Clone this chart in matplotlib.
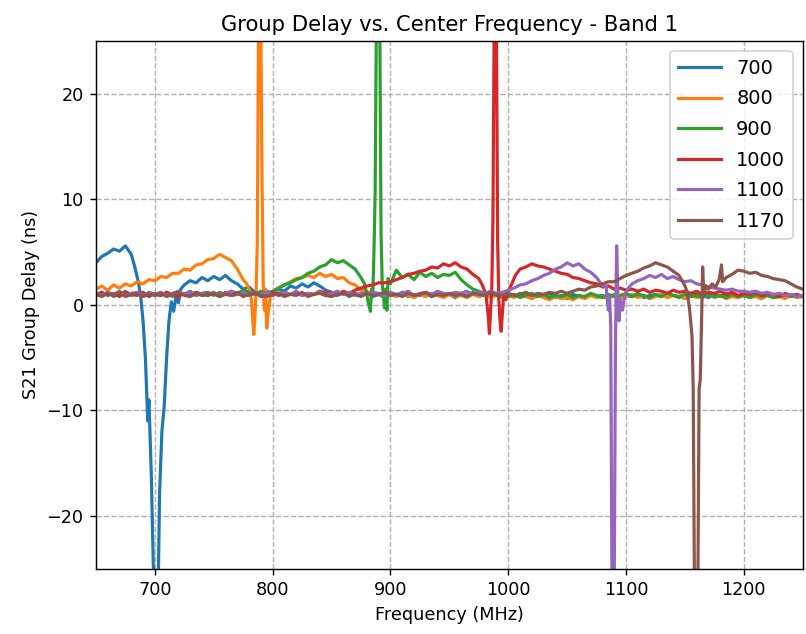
import matplotlib.pyplot as plt

# ---- data (frequency in MHz, group delay in ns) ----
freq_700 = ([650, 655, 660, 665, 670, 675, 680, 683, 686, 688, 690, 692, 694, 695,
             697, 699, 701, 703, 704, 706, 708, 710, 712, 714, 716, 718, 720, 722, 725]
            + list(range(730, 1255, 5)))
gd_700 = [4.0, 4.6, 4.9, 5.3, 5.1, 5.6, 4.8, 3.6, 2.2, 0.8, -1.5, -5.0, -11.0, -9.0,
          -16.0, -26.0, -26.0, -26.0, -18.0, -12.0, -9.5, -5.0, -1.5, 0.3, -0.6, 0.9, 0.2, 1.5, 1.9,
          2.3, 2.1, 2.6, 2.3, 2.7, 2.4, 2.8, 2.3, 2.0, 1.5,
          1.7, 1.2, 1.0, 1.3, 1.1, 1.5, 1.3, 1.8, 1.6, 2.0,
          1.7, 2.1, 1.8, 1.4, 1.2, 0.9, 1.2, 0.8, 1.1, 0.9,
          1.2, 0.8, 1.0, 0.7, 1.1, 0.9, 1.2, 0.8, 1.0, 0.9,
          1.1, 0.8, 1.2, 0.9, 1.0, 0.7, 1.1, 0.9, 1.2, 0.8,
          1.0, 0.9, 1.1, 0.7, 1.0, 0.8, 1.1, 0.9, 0.6, 1.0,
          0.8, 1.1, 0.7, 0.9, 0.6, 1.0, 0.8, 0.7, 1.0, 0.8,
          0.9, 0.7, 1.0, 0.6, 0.9, 0.8, 1.1, 0.7, 0.9, 1.0,
          0.8, 1.1, 0.9, 0.7, 1.0, 0.8, 1.2, 0.9, 0.7, 1.0,
          0.8, 1.1, 0.9, 0.7, 1.0, 0.8, 0.9, 0.6, 1.0, 0.8,
          0.9, 0.7, 1.0, 0.8, 0.9]

freq_800 = (list(range(650, 780, 5))
            + [778, 780, 782, 784, 785, 786, 787, 788, 790, 791, 792, 793, 794, 795, 796, 798]
            + list(range(800, 1255, 5)))
gd_800 = [1.5, 1.8, 1.4, 1.9, 1.6, 2.0, 1.8, 2.2, 2.0, 2.4,
          2.3, 2.7, 2.6, 3.0, 3.0, 3.4, 3.3, 3.8, 3.9, 4.3,
          4.4, 4.8, 4.5, 4.2, 3.4, 2.4,
          2.0, 1.5, 0.5, -2.8, -1.0, 1.5, 6.0, 26.0, 26.0, 12.0, 2.0, -0.5, 1.5, -2.2, -1.0, 0.8,
          1.2, 1.6, 1.9, 2.2, 2.5, 2.6, 2.8, 2.6, 3.0, 2.7,
          2.9, 2.5, 2.6, 2.1, 1.9, 1.4, 1.3, 1.0, 1.1, 0.8,
          1.0, 0.8, 1.1, 0.9, 0.7, 1.0, 0.8, 1.1, 0.9, 0.7,
          1.0, 0.8, 0.9, 0.7, 1.0, 0.8, 1.0, 0.7, 0.9, 0.8,
          0.9, 0.7, 1.0, 0.8, 0.6, 0.9, 0.7, 0.5, 0.8, 0.6,
          0.7, 0.5, 0.8, 0.6, 0.9, 0.7, 0.8, 0.6, 0.9, 0.7,
          0.8, 1.0, 0.7, 0.9, 0.6, 0.8, 1.0, 0.7, 0.9, 0.8,
          0.6, 0.9, 0.7, 0.8, 1.0, 0.7, 0.9, 0.6, 0.8, 0.7,
          0.9, 0.7, 0.8, 0.6, 0.9, 0.7, 0.8, 0.6, 0.9, 0.7,
          0.8]

freq_900 = (list(range(650, 880, 5))
            + [878, 880, 881, 883, 884, 885, 886, 887, 888, 891, 892, 893, 894, 895, 896, 897, 898]
            + list(range(900, 1255, 5)))
gd_900 = [1.1, 0.9, 1.2, 0.8, 1.0, 1.3, 0.9, 1.1, 0.8, 1.2,
          1.0, 0.9, 1.2, 0.8, 1.1, 1.0, 1.3, 0.9, 1.1, 1.2,
          0.9, 1.2, 1.0, 1.3, 1.1, 1.4, 1.2, 1.0, 1.3, 1.1,
          1.3, 1.6, 1.9, 2.1, 2.4, 2.6, 3.0, 3.2, 3.6, 3.8,
          4.3, 4.0, 4.2, 3.8, 3.4, 2.6,
          2.0, 1.0, 0.3, -0.6, 1.5, 0.8, 5.0, 10.5, 26.0, 26.0, 7.0, 2.0, 1.0, -0.3, 1.5, -0.5, 2.5,
          2.0, 3.3, 2.6, 2.9, 2.4, 3.1, 2.7, 3.0, 2.6, 2.9,
          2.8, 3.1, 2.4, 1.9, 1.5, 1.3, 1.1, 1.2, 0.9, 1.1,
          0.8, 1.0, 0.7, 0.9, 1.1, 0.8, 1.0, 0.7, 0.9, 0.8,
          1.0, 0.7, 0.9, 0.8, 1.1, 0.9, 0.7, 1.0, 0.8, 0.9,
          1.1, 0.8, 1.0, 0.9, 0.7, 1.0, 0.8, 1.1, 0.9, 0.8,
          1.0, 0.8, 0.9, 0.7, 1.0, 0.8, 0.9, 0.7, 1.0, 0.8,
          0.9, 0.7, 1.0, 0.8, 0.9, 0.7, 0.8, 1.0, 0.8, 0.9,
          0.8]

freq_1000 = (list(range(650, 980, 5))
             + [978, 981, 983, 984, 985, 986, 987, 988, 990, 991, 992, 993, 994, 995, 996, 998]
             + [1000, 1003, 1006] + list(range(1010, 1255, 5)))
gd_1000 = [1.0, 1.2, 0.9, 1.1, 0.8, 1.2, 1.0, 0.9, 1.2, 0.8,
           1.1, 0.9, 1.2, 1.0, 0.8, 1.1, 0.9, 1.2, 1.0, 0.9,
           1.1, 0.8, 1.2, 0.9, 1.0, 1.1, 0.9, 1.2, 0.8, 1.0,
           1.2, 0.9, 1.1, 1.0, 1.2, 0.9, 1.1, 1.0, 1.3, 1.1,
           1.2, 1.0, 1.3, 1.1, 1.4, 1.6, 1.8, 1.9, 2.1, 2.1,
           2.2, 2.4, 2.6, 2.9, 3.0, 3.2, 3.3, 3.6, 3.5, 3.9,
           3.7, 4.0, 3.6, 3.4, 2.9, 2.5,
           1.9, 1.0, -1.0, -2.7, -0.5, 1.5, 8.0, 26.0, 26.0, 6.0, 0.5, -1.5, -2.5, -0.8, 0.8, 0.5,
           1.3, 2.0, 2.8,
           3.4, 3.6, 3.9, 3.7, 3.6, 3.4, 3.2, 3.0, 2.9, 2.6,
           2.5, 2.3, 2.1, 2.0, 1.7, 1.8, 1.5, 1.6, 1.4, 1.5,
           1.3, 1.5, 1.2, 1.4, 1.3, 1.1, 1.4, 1.2, 1.3, 1.1,
           1.3, 1.0, 1.2, 1.1, 1.3, 1.0, 1.2, 0.9, 1.1, 1.0,
           1.2, 0.9, 1.1, 1.0, 0.8, 1.1, 0.9, 1.0, 0.8]

freq_1100 = (list(range(650, 1085, 5))
             + [1083, 1085, 1086, 1087, 1088, 1090, 1091, 1092, 1093, 1094, 1095, 1097, 1099, 1102, 1105]
             + list(range(1110, 1255, 5)))
gd_1100 = [1.1, 0.9, 1.2, 1.0, 1.3, 0.9, 1.1, 1.2, 0.9, 1.1,
           1.0, 1.2, 0.9, 1.1, 1.3, 1.0, 1.2, 0.9, 1.1, 1.0,
           1.2, 0.9, 1.1, 1.3, 1.0, 1.2, 0.9, 1.1, 1.0, 1.2,
           0.9, 1.1, 1.2, 1.0, 1.3, 0.9, 1.1, 1.0, 1.2, 0.9,
           1.1, 1.3, 1.0, 1.2, 0.9, 1.1, 1.0, 1.2, 1.1, 0.9,
           1.2, 1.0, 1.1, 1.3, 0.9, 1.1, 1.2, 1.0, 1.3, 1.1,
           1.0, 1.2, 1.1, 1.3, 1.0, 1.2, 1.1, 1.3, 1.1, 1.2,
           1.4, 1.6, 1.9, 2.0, 2.3, 2.5, 2.8, 3.0, 3.4, 3.6,
           4.0, 3.7, 3.9, 3.4, 3.1, 2.6, 1.8,
           1.8, -0.5, 0.8, -2.0, -26.0, -26.0, -4.0, 5.6, 1.0, -1.5, 0.5, -0.5, 1.0, 1.6, 2.0,
           2.3, 2.5, 2.8, 2.6, 2.9, 2.5, 2.7, 2.4, 2.2, 2.3,
           2.0, 1.9, 1.7, 1.6, 1.5, 1.4, 1.5, 1.3, 1.3, 1.2,
           1.3, 1.1, 1.2, 1.0, 1.1, 0.9, 1.0, 0.8, 0.9]

freq_1170 = (list(range(650, 1155, 5))
             + [1152, 1154, 1156, 1157, 1158, 1161, 1162, 1163, 1164, 1165, 1166, 1168,
                1170, 1173, 1176, 1179, 1181, 1182]
             + list(range(1185, 1255, 5)))
gd_1170 = [1.0, 0.8, 1.1, 0.9, 1.2, 0.8, 1.0, 1.1, 0.8, 1.0,
           0.9, 1.1, 0.8, 1.0, 1.2, 0.9, 0.8, 1.1, 0.9, 1.0,
           1.1, 0.8, 1.0, 0.9, 1.2, 0.8, 1.0, 1.1, 0.9, 0.8,
           1.0, 1.1, 0.8, 1.0, 0.9, 1.2, 0.8, 1.0, 1.1, 0.9,
           0.8, 1.0, 1.1, 0.9, 1.0, 0.8, 1.1, 0.9, 1.0, 1.2,
           0.9, 1.0, 0.8, 1.1, 0.9, 1.0, 1.2, 0.8, 1.0, 0.9,
           1.1, 0.9, 1.0, 0.8, 1.1, 1.0, 0.9, 1.2, 1.0, 0.9,
           1.1, 0.9, 1.0, 1.2, 0.9, 1.1, 1.0, 1.2, 1.1, 1.3,
           1.1, 1.3, 1.5, 1.4, 1.7, 1.8, 2.0, 2.2, 2.2, 2.5,
           2.8, 3.0, 3.2, 3.5, 3.7, 4.0, 3.8, 3.6, 3.2, 2.8,
           1.8,
           1.2, -0.5, -3.0, -8.0, -26.0, -26.0, -8.0, -7.0, -2.0, 3.6, 1.0, 1.8,
           1.5, 2.0, 1.7, 2.4, 3.8, 2.2,
           2.6, 2.9, 3.3, 3.2, 3.0, 3.1, 2.8, 2.7, 2.5, 2.4, 2.3, 2.0, 1.7, 1.5]

series = [("700", freq_700, gd_700),
          ("800", freq_800, gd_800),
          ("900", freq_900, gd_900),
          ("1000", freq_1000, gd_1000),
          ("1100", freq_1100, gd_1100),
          ("1170", freq_1170, gd_1170)]

plt.figure(figsize=(806 / 127, 634 / 127), dpi=127)
for label, f, gd in series:
    plt.plot(f, gd, label=label, linewidth=1.8)

plt.title("Group Delay vs. Center Frequency - Band 1")
plt.xlabel("Frequency (MHz)")
plt.ylabel("S21 Group Delay (ns)")
plt.xlim(650, 1250)
plt.ylim(-25, 25)
plt.grid(True, linestyle="--")
plt.legend(loc="upper right", fontsize=11, handlelength=2.2, labelspacing=0.6)
plt.subplots_adjust(left=0.119, right=0.996, bottom=0.103, top=0.935)
plt.savefig("out.png", dpi=127)
plt.close()
